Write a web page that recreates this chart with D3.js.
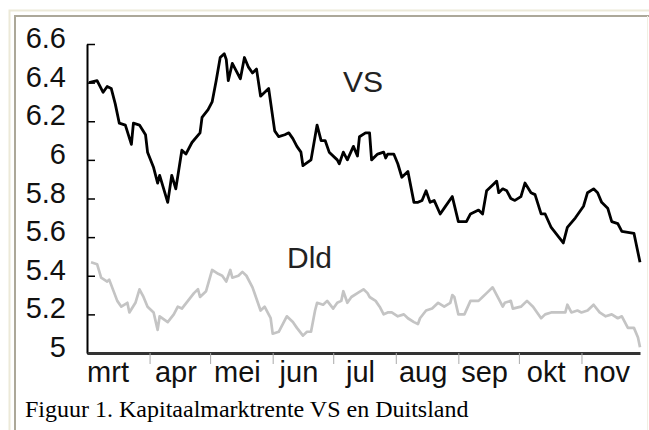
<!DOCTYPE html>
<html>
<head>
<meta charset="utf-8">
<script src="https://cdn.jsdelivr.net/npm/d3@7"></script>
<style>
  body { margin: 0; background: #fff; }
  svg { display: block; }
</style>
</head>
<body>
<script>
// days counted from 1 March, rates in percent
var vsDays = [1, 5, 8, 10, 12, 14, 16, 19, 22, 23, 26, 29, 30, 33, 35, 36, 40, 42, 44, 47,
    49, 52, 56, 57, 60, 62, 64, 66, 68, 69, 70, 72, 74, 76, 78, 80, 82, 84, 86, 90,
    93, 95, 98, 100, 102, 104, 106, 107, 111, 114, 116, 118, 120, 124, 125, 127, 129, 132, 134, 135,
    138, 140, 141, 144, 147, 148, 149, 152, 154, 156, 159, 162, 164, 166, 168, 170, 172, 175, 177, 181,
    184, 188, 190, 194, 196, 198, 201, 203, 204, 206, 208, 210, 212, 215, 217, 220, 222, 225, 227, 230,
    236, 238, 242, 246, 248, 251, 253, 255, 258, 260, 263, 265, 271, 274];
var vsRates = [6.40, 6.41, 6.35, 6.38, 6.37, 6.29, 6.19, 6.18, 6.08, 6.19, 6.18, 6.13, 6.04, 5.96, 5.88, 5.92, 5.78, 5.92, 5.85, 6.05,
    6.03, 6.09, 6.14, 6.22, 6.26, 6.30, 6.41, 6.53, 6.55, 6.52, 6.41, 6.50, 6.46, 6.42, 6.53, 6.48, 6.45, 6.47, 6.33, 6.37,
    6.15, 6.12, 6.13, 6.14, 6.11, 6.07, 6.04, 5.97, 6.00, 6.18, 6.10, 6.10, 6.04, 6.00, 5.98, 6.04, 6.00, 6.07, 6.02, 6.12,
    6.14, 6.14, 6.00, 6.03, 6.04, 6.01, 6.03, 6.03, 5.98, 5.91, 5.94, 5.78, 5.78, 5.79, 5.84, 5.78, 5.79, 5.72, 5.75, 5.81,
    5.68, 5.68, 5.72, 5.74, 5.72, 5.84, 5.87, 5.89, 5.83, 5.85, 5.84, 5.80, 5.79, 5.81, 5.88, 5.83, 5.82, 5.72, 5.72, 5.65,
    5.57, 5.65, 5.70, 5.76, 5.83, 5.85, 5.83, 5.78, 5.75, 5.68, 5.67, 5.63, 5.62, 5.47];

var dldDays = [2, 5, 7, 10, 11, 15, 17, 20, 21, 24, 26, 28, 30, 33, 35, 36, 40, 43, 45, 47,
    50, 53, 55, 56, 59, 62, 65, 67, 69, 71, 72, 75, 77, 79, 82, 86, 88, 91, 92, 95,
    97, 99, 102, 104, 107, 109, 111, 113, 114, 117, 119, 122, 124, 126, 127, 129, 131, 134, 137, 139,
    140, 143, 145, 147, 149, 151, 154, 157, 159, 162, 164, 165, 168, 171, 174, 177, 180, 181, 182, 184,
    187, 190, 194, 196, 198, 201, 204, 206, 207, 210, 211, 215, 218, 221, 223, 225, 227, 230, 234, 237,
    238, 240, 243, 245, 248, 251, 254, 257, 260, 263, 265, 268, 271, 273, 274];
var dldRates = [5.47, 5.46, 5.39, 5.37, 5.38, 5.27, 5.24, 5.26, 5.21, 5.26, 5.33, 5.29, 5.24, 5.21, 5.12, 5.19, 5.16, 5.20, 5.24, 5.23,
    5.27, 5.31, 5.33, 5.29, 5.32, 5.43, 5.41, 5.40, 5.37, 5.43, 5.39, 5.40, 5.42, 5.40, 5.34, 5.22, 5.24, 5.18, 5.10, 5.11,
    5.15, 5.19, 5.16, 5.13, 5.09, 5.11, 5.11, 5.22, 5.26, 5.25, 5.27, 5.23, 5.26, 5.27, 5.32, 5.26, 5.29, 5.31, 5.33, 5.31,
    5.29, 5.27, 5.24, 5.20, 5.21, 5.21, 5.19, 5.20, 5.18, 5.16, 5.15, 5.18, 5.22, 5.23, 5.26, 5.24, 5.26, 5.30, 5.29, 5.20,
    5.20, 5.27, 5.27, 5.29, 5.31, 5.34, 5.28, 5.24, 5.26, 5.27, 5.23, 5.24, 5.27, 5.24, 5.21, 5.18, 5.20, 5.21, 5.21, 5.21,
    5.25, 5.21, 5.22, 5.21, 5.22, 5.25, 5.21, 5.19, 5.20, 5.18, 5.19, 5.13, 5.13, 5.08, 5.03];

var months = ["mrt", "apr", "mei", "jun", "jul", "aug", "sep", "okt", "nov"];
var yTicks = [5, 5.2, 5.4, 5.6, 5.8, 6, 6.2, 6.4, 6.6];
var caption = "Figuur 1. Kapitaalmarktrente VS en Duitsland";

var width = 649,
    height = 430,
    plotLeft = 87,
    plotRight = 640,
    plotTop = 44,
    plotBottom = 353,
    year = 2000;

var start = new Date(year, 2, 1);
function toDate(d) { return d3.timeDay.offset(start, d); }

var x = d3.scaleTime()
    .domain([start, new Date(year, 10, 30)])
    .range([plotLeft, plotRight]);
var y = d3.scaleLinear()
    .domain([5, 6.6])
    .range([plotBottom, plotTop]);

var svg = d3.select("body").append("svg")
    .attr("width", width)
    .attr("height", height);

// sunken frame
svg.append("rect")
    .attr("x", 0).attr("y", 0)
    .attr("width", width).attr("height", height)
    .attr("fill", "#fff");
svg.append("path")
    .attr("d", "M9.5,430V10.5H649")
    .attr("fill", "none").attr("stroke", "#ece9d8").attr("stroke-width", 2);
svg.append("path")
    .attr("d", "M15,430V16H649")
    .attr("fill", "none").attr("stroke", "#aca899").attr("stroke-width", 2);
svg.append("line")
    .attr("x1", 647.5).attr("x2", 647.5).attr("y1", 16).attr("y2", 430)
    .attr("stroke", "#f1efe2").attr("stroke-width", 1);

// y axis, ticks pointing inward
var yAxis = d3.axisRight(y)
    .tickValues(yTicks)
    .tickSize(8)
    .tickSizeOuter(0)
    .tickFormat("");
var gy = svg.append("g")
    .attr("transform", "translate(" + plotLeft + ",0)")
    .call(yAxis);
gy.select(".domain").attr("stroke", "#000").attr("stroke-width", 2);
gy.selectAll(".tick line").attr("stroke", "#000").attr("stroke-width", 1.5);

svg.append("g").selectAll("text")
    .data(yTicks)
    .enter().append("text")
    .attr("x", 66)
    .attr("y", function (d) { return y(d) + 4; })
    .attr("text-anchor", "end")
    .style("font-family", "'Liberation Sans', Arial, sans-serif")
    .style("font-size", "29px")
    .attr("fill", "#111")
    .text(function (d) { return d; });

// x axis with month boundaries
var monthStarts = d3.timeMonth.range(new Date(year, 2, 1), new Date(year, 11, 1));
var xAxis = d3.axisBottom(x)
    .tickValues(monthStarts.slice(1))
    .tickSize(11)
    .tickSizeOuter(0)
    .tickFormat("");
var gx = svg.append("g")
    .attr("transform", "translate(0," + plotBottom + ")")
    .call(xAxis);
gx.select(".domain").attr("stroke", "#333").attr("stroke-width", 3);
gx.selectAll(".tick line").attr("stroke", "#aaa").attr("stroke-width", 1);

// month names sit between the boundaries; the first one hugs the axis
svg.append("g").selectAll("text")
    .data(monthStarts)
    .enter().append("text")
    .attr("x", function (d, i) {
        var end = d3.timeMonth.offset(d, 1);
        var mid = (x(d) + Math.min(x(end), plotRight)) / 2 - 4;
        return i === 0 ? plotLeft + 21 : mid;
    })
    .attr("y", 382)
    .attr("text-anchor", "middle")
    .style("font-family", "'Liberation Sans', Arial, sans-serif")
    .style("font-size", "29px")
    .attr("fill", "#111")
    .text(function (d, i) { return months[i]; });

// the two rate lines
var line = d3.line()
    .x(function (d) { return x(toDate(d[0])); })
    .y(function (d) { return y(d[1]); });

svg.append("path")
    .datum(d3.zip(dldDays, dldRates))
    .attr("d", line)
    .attr("fill", "none")
    .attr("stroke", "#c4c4c4")
    .attr("stroke-width", 2.7)
    .attr("stroke-linejoin", "round");

svg.append("path")
    .datum(d3.zip(vsDays, vsRates))
    .attr("d", line)
    .attr("fill", "none")
    .attr("stroke", "#000")
    .attr("stroke-width", 2.8)
    .attr("stroke-linejoin", "round");

svg.append("text")
    .attr("x", 343).attr("y", 92)
    .style("font-family", "'Liberation Sans', Arial, sans-serif")
    .style("font-size", "30px")
    .attr("fill", "#222")
    .text("VS");
svg.append("text")
    .attr("x", 287).attr("y", 268)
    .style("font-family", "'Liberation Sans', Arial, sans-serif")
    .style("font-size", "30px")
    .attr("fill", "#222")
    .text("Dld");

svg.append("text")
    .attr("x", 25).attr("y", 417)
    .style("font-family", "'Liberation Serif', 'Times New Roman', serif")
    .style("font-size", "24px")
    .attr("fill", "#000")
    .text(caption);
</script>
</body>
</html>
